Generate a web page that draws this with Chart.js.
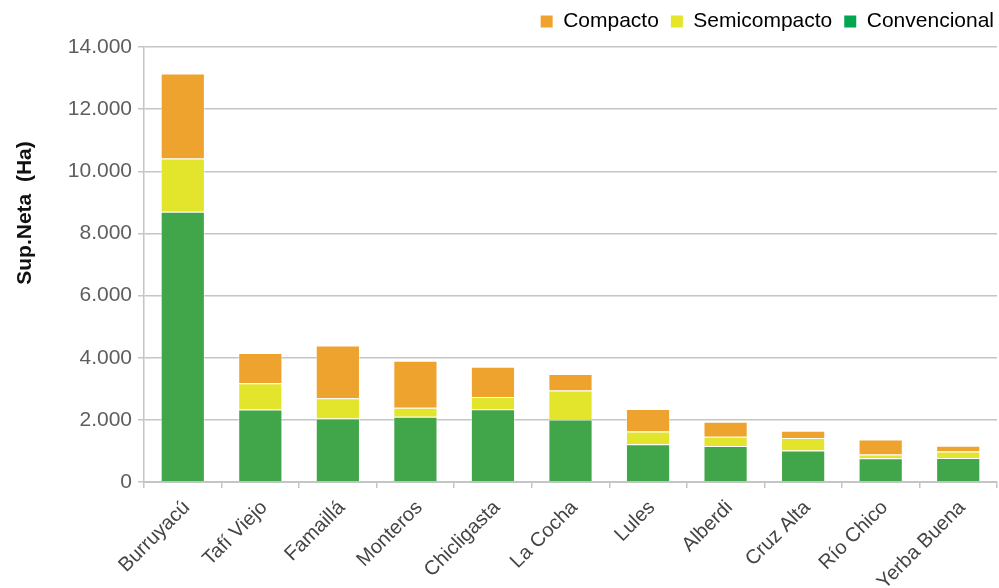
<!DOCTYPE html>
<html>
<head>
    <meta charset="UTF-8">
    <title>Sup.Neta</title>
    <script src="https://cdn.jsdelivr.net/npm/chart.js"></script>
    <style>
        html, body {
            margin: 0;
            padding: 0;
            background: #fff;
        }

        .chart-box {
            width: 999px;
            height: 588px;
        }
    </style>
</head>
<body>
<div class="chart-box">
    <canvas id="myChart" width="999" height="588"></canvas>
</div>
<script>
    // departamentos
    const departamentos = ['Burruyacú', 'Tafí Viejo', 'Famaillá', 'Monteros', 'Chicligasta', 'La Cocha',
        'Lules', 'Alberdi', 'Cruz Alta', 'Río Chico', 'Yerba Buena'];
    // hectáreas por sistema (apiladas: convencional abajo)
    const convencional = [8700, 2330, 2040, 2100, 2340, 2010, 1215, 1160, 1010, 765, 775];
    const semicompacto = [1715, 845, 652, 289, 398, 931, 407, 300, 408, 118, 203];
    const compacto = [2731, 976, 1702, 1510, 973, 537, 729, 481, 234, 482, 192];
    const yTicks = [0, 2000, 4000, 6000, 8000, 10000, 12000, 14000];

    const gridColor = '#c2c6c5';

    function fmt(v) {
        return String(v).replace(/\B(?=(\d{3})+(?!\d))/g, '.');
    }

    // titulo del eje Y (no centrado en el area, como en el original)
    const yTitle = {
        id: 'yTitle',
        afterLayout(chart) {
            // leyenda un poco mas arriba y pegada al borde derecho
            const lg = chart.legend;
            lg.left += 9;
            lg.right += 9;
            lg.top -= 5;
            lg.bottom -= 5;
        },
        afterDraw(chart) {
            const ctx = chart.ctx;
            ctx.save();
            ctx.translate(25, 213);
            ctx.rotate(-Math.PI / 2);
            ctx.font = 'bold 21px "Liberation Sans", Arial, sans-serif';
            ctx.fillStyle = '#111';
            ctx.textAlign = 'center';
            ctx.textBaseline = 'middle';
            ctx.fillText('Sup.Neta  (Ha)', 0, 0);
            ctx.restore();
        }
    };

    const legendColors = ['#41a54a', '#e3e42c', '#eda32e'];
    const legendBoxColors = ['#00a651', '#e5e52a', '#f0a22e'];

    new Chart(document.getElementById('myChart').getContext('2d'), {
        type: 'bar',
        data: {
            labels: departamentos,
            datasets: [
                {label: 'Convencional', data: convencional, backgroundColor: legendColors[0]},
                {label: 'Semicompacto', data: semicompacto, backgroundColor: legendColors[1]},
                {label: 'Compacto', data: compacto, backgroundColor: legendColors[2]}
            ]
        },
        options: {
            responsive: false,
            animation: false,
            layout: {padding: {top: 4, right: 2, left: 0, bottom: 0}},
            datasets: {
                bar: {
                    categoryPercentage: 1,
                    barPercentage: 0.57,
                    borderWidth: 1,
                    borderColor: 'rgba(255,255,255,0.55)'
                }
            },
            plugins: {
                legend: {
                    position: 'top',
                    align: 'end',
                    reverse: true,
                    labels: {
                        boxWidth: 12,
                        boxHeight: 12,
                        padding: 12,
                        color: '#111',
                        font: {family: '"Liberation Sans", Arial, sans-serif', size: 21},
                        generateLabels(chart) {
                            return chart.data.datasets.map((ds, i) => ({
                                text: ds.label,
                                fillStyle: legendBoxColors[i],
                                strokeStyle: legendBoxColors[i],
                                lineWidth: 0,
                                datasetIndex: i,
                                hidden: false
                            }));
                        }
                    }
                },
                tooltip: {enabled: false}
            },
            scales: {
                x: {
                    stacked: true,
                    grid: {
                        offset: true,
                        drawOnChartArea: false,
                        color: gridColor,
                        lineWidth: 1.5,
                        tickLength: 6
                    },
                    border: {color: gridColor, width: 2},
                    ticks: {
                        autoSkip: false,
                        minRotation: 45,
                        maxRotation: 45,
                        padding: 8,
                        labelOffset: 4,
                        color: '#444',
                        font: {family: '"Liberation Sans", Arial, sans-serif', size: 20}
                    },
                    afterFit(scale) {
                        scale.height = 106;
                    }
                },
                y: {
                    stacked: true,
                    min: 0,
                    max: 14000,
                    afterBuildTicks(scale) {
                        scale.ticks = yTicks.map(v => ({value: v}));
                    },
                    grid: {
                        color: gridColor,
                        lineWidth: 1.5,
                        tickLength: 6
                    },
                    border: {color: gridColor, width: 1.5},
                    ticks: {
                        padding: 6,
                        color: '#5e5e5e',
                        font: {family: '"Liberation Sans", Arial, sans-serif', size: 21},
                        callback: v => fmt(v)
                    },
                    afterFit(scale) {
                        scale.width = 144;
                    }
                }
            }
        },
        plugins: [yTitle]
    });
</script>
</body>
</html>
